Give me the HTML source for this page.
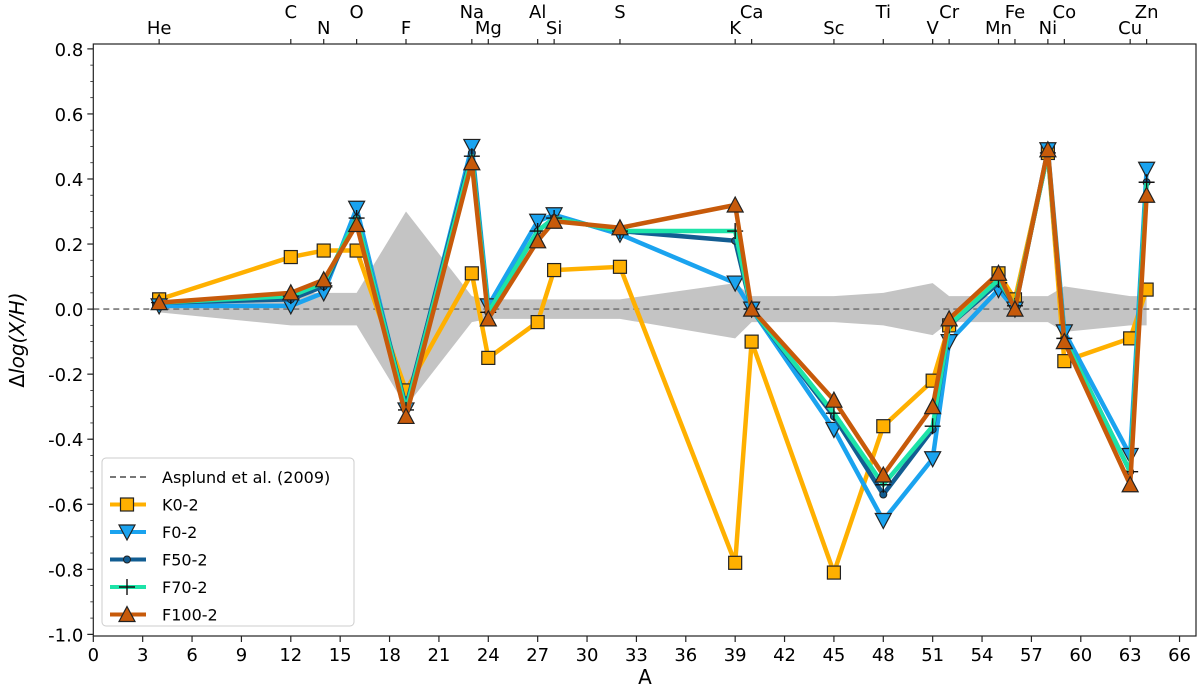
<!DOCTYPE html>
<html><head><meta charset="utf-8"><style>
body{margin:0;background:#fff;}
svg{font-family:"DejaVu Sans","Liberation Sans",sans-serif;}
</style></head><body>
<svg id="chart" width="1200" height="692" viewBox="0 0 1200 692" xmlns="http://www.w3.org/2000/svg">
<g id="band"></g>
<line id="refline" stroke="#777" stroke-width="1.6" stroke-dasharray="6,4"/>
<g id="series"></g>
<g id="axes"></g>
<text x="645" y="684" font-size="20" text-anchor="middle">A</text>
<text transform="translate(24,340) rotate(-90)" font-size="20" text-anchor="middle">Δ<tspan font-style="italic">log(X/H)</tspan></text>
<g id="legend"></g>
</svg>
<script>
const massNumbers=[4,12,14,16,19,23,24,27,28,32,39,40,45,48,51,52,55,56,58,59,63,64];
const elements=["He","C","N","O","F","Na","Mg","Al","Si","S","K","Ca","Sc","Ti","V","Cr","Mn","Fe","Ni","Co","Cu","Zn"];
const k0=[0.03,0.16,0.18,0.18,-0.25,0.11,-0.15,-0.04,0.12,0.13,-0.78,-0.10,-0.81,-0.36,-0.22,-0.05,0.11,0.03,0.48,-0.16,-0.09,0.06];
const f0=[0.01,0.01,0.05,0.31,-0.31,0.50,0.01,0.27,0.29,0.23,0.08,0.00,-0.37,-0.65,-0.46,-0.10,0.06,0.00,0.49,-0.07,-0.45,0.43];
const f50=[0.02,0.03,0.07,0.28,-0.30,0.48,-0.01,0.24,0.28,0.24,0.21,0.00,-0.33,-0.57,-0.37,-0.05,0.08,0.01,0.48,-0.09,-0.50,0.39];
const f70=[0.02,0.04,0.08,0.28,-0.31,0.47,-0.01,0.24,0.28,0.24,0.24,0.00,-0.32,-0.54,-0.36,-0.05,0.09,0.01,0.48,-0.09,-0.50,0.39];
const f100=[0.02,0.05,0.09,0.26,-0.33,0.45,-0.03,0.21,0.27,0.25,0.32,0.00,-0.28,-0.51,-0.30,-0.03,0.11,0.00,0.49,-0.10,-0.54,0.35];
const bandUpper=[0.0,0.05,0.05,0.05,0.30,0.04,0.03,0.03,0.03,0.03,0.08,0.04,0.04,0.05,0.08,0.04,0.04,0.04,0.04,0.07,0.04,0.04];
const bandLower=[-0.01,-0.05,-0.05,-0.05,-0.30,-0.04,-0.03,-0.03,-0.03,-0.03,-0.09,-0.04,-0.04,-0.05,-0.08,-0.04,-0.04,-0.04,-0.04,-0.07,-0.05,-0.05];
const xTicks=[0,3,6,9,12,15,18,21,24,27,30,33,36,39,42,45,48,51,54,57,60,63,66];
const yTicks=[0.8,0.6,0.4,0.2,0.0,-0.2,-0.4,-0.6,-0.8,-1.0];
const topRow=["C","O","Na","Al","S","Ca","Ti","Cr","Fe","Co","Zn"];

const L=93.3,R=1196,T=44,B=636;
const X0=0,X1=67,Y0=-1.005,Y1=0.815;
const sx=v=>L+(v-X0)/(X1-X0)*(R-L);
const sy=v=>B-(v-Y0)/(Y1-Y0)*(B-T);
const NS="http://www.w3.org/2000/svg";
function mk(tag,attrs,parent){const e=document.createElementNS(NS,tag);for(const k in attrs)e.setAttribute(k,attrs[k]);parent.appendChild(e);return e;}

const band=document.getElementById('band');
let pts=massNumbers.map((m,i)=>sx(m)+","+sy(bandUpper[i]));
pts=pts.concat(massNumbers.map((m,i)=>sx(m)+","+sy(bandLower[i])).reverse());
const bp=mk('polygon',{points:pts.join(" "),fill:"#c4c4c4"},band);



const rl=document.getElementById('refline');
rl.setAttribute('x1',L);rl.setAttribute('x2',R);rl.setAttribute('y1',sy(0));rl.setAttribute('y2',sy(0));

function marker(g,type,x,y,color){
  let e;
  if(type==='square') e=mk('rect',{x:x-6.5,y:y-6.5,width:13,height:13,fill:color,stroke:"#222","stroke-width":1.2},g);
  else if(type==='tri-down') e=mk('polygon',{points:`${x-8},${y-7} ${x+8},${y-7} ${x},${y+8}`,fill:color,stroke:"#222","stroke-width":1.2},g);
  else if(type==='tri-up') e=mk('polygon',{points:`${x-8},${y+7} ${x+8},${y+7} ${x},${y-8}`,fill:color,stroke:"#222","stroke-width":1.2},g);
  else if(type==='circle') e=mk('circle',{cx:x,cy:y,r:3.5,fill:color,stroke:"#222","stroke-width":1},g);
  else if(type==='plus') e=mk('path',{d:`M${x-8},${y}H${x+8}M${x},${y-8}V${y+8}`,stroke:"#111","stroke-width":1.4,fill:"none"},g);
  return e;
}
const seriesDefs=[
 {name:"K0-2",vals:k0,color:"#ffb000",m:"square"},
 {name:"F0-2",vals:f0,color:"#1aa3ef",m:"tri-down"},
 {name:"F50-2",vals:f50,color:"#125d92",m:"circle"},
 {name:"F70-2",vals:f70,color:"#1de3a8",m:"plus"},
 {name:"F100-2",vals:f100,color:"#c75a0a",m:"tri-up"}];
const sg=document.getElementById('series');
seriesDefs.forEach(s=>{
  const g=mk('g',{},sg);
  
  
  const pl=mk('polyline',{points:massNumbers.map((m,i)=>sx(m)+","+sy(s.vals[i])).join(" "),fill:"none",stroke:s.color,"stroke-width":4.5,"stroke-linejoin":"round"},g);
  
  
  massNumbers.forEach((m,i)=>{
    const e=marker(g,s.m,sx(m),sy(s.vals[i]),s.color);
    
    
  });
});

const ax=document.getElementById('axes');
mk('rect',{x:L,y:T,width:R-L,height:B-T,fill:"none",stroke:"#222","stroke-width":1.2},ax);
xTicks.forEach(t=>{
  const x=sx(t);
  mk('line',{x1:x,x2:x,y1:B,y2:B+6,stroke:"#222","stroke-width":1.2},ax);
  const tx=mk('text',{x:x,y:B+25,"font-size":18,"text-anchor":"middle"},ax);
  tx.textContent=t;
  
  
});
yTicks.forEach(t=>{
  const y=sy(t);
  mk('line',{x1:L-6,x2:L,y1:y,y2:y,stroke:"#222","stroke-width":1.2},ax);
  const tx=mk('text',{x:L-10,y:y+7,"font-size":18,"text-anchor":"end"},ax);
  tx.textContent=t.toFixed(1);
  
  
});
for(let v=-1.0;v<=0.8001;v+=0.05){const y=sy(v);mk('line',{x1:L-3,x2:L,y1:y,y2:y,stroke:"#222","stroke-width":0.8},ax);}
massNumbers.forEach((m,i)=>{
  const x=sx(m);
  mk('line',{x1:x,x2:x,y1:T-5,y2:T,stroke:"#222","stroke-width":1.2},ax);
  const top=topRow.includes(elements[i]);
  const tx=mk('text',{x:x,y:top?18:34,"font-size":18,"text-anchor":"middle"},ax);
  tx.textContent=elements[i];
  
  
});

const lg=document.getElementById('legend');
mk('rect',{x:102,y:458,width:252,height:168,rx:4,fill:"#fff","fill-opacity":0.85,stroke:"#ccc","stroke-width":1},lg);
const items=[{name:"Asplund et al. (2009)",dash:true}].concat(seriesDefs);
items.forEach((it,i)=>{
  const y=477+i*27.5;
  const g=mk('g',{},lg);
  
  
  if(it.dash) mk('line',{x1:110,x2:146,y1:y,y2:y,stroke:"#777","stroke-width":2,"stroke-dasharray":"6,4"},g);
  else {mk('line',{x1:110,x2:146,y1:y,y2:y,stroke:it.color,"stroke-width":4},g);marker(g,it.m,127,y,it.color);}
  const tx=mk('text',{x:162,y:y+6,"font-size":16},g);
  tx.textContent=it.name;
});
</script>
</body></html>
